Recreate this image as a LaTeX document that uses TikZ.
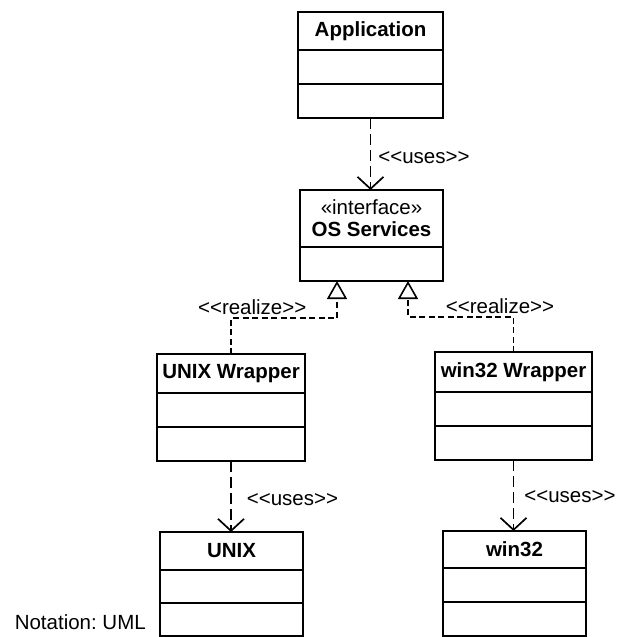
\documentclass[tikz,border=0pt]{standalone}
\usepackage{fontspec}
\setmainfont{Liberation Sans}
\usepackage{tikz}
\usetikzlibrary{positioning, arrows.meta}

\newcommand{\stereo}[1]{<\kern0pt<#1>\kern0pt>}
\frenchspacing

\tikzset{
  classname/.style={draw, line width=1.8pt, outer sep=0pt, inner sep=1pt,
    minimum height=39pt, font=\fontsize{20.5}{22}\selectfont\bfseries},
  compart/.style={draw, line width=1.8pt, outer sep=0pt, minimum height=34pt},
  uses/.style={line width=1.7pt, dash pattern=on 11pt off 5pt,
    -{Straight Barb[length=12pt, width=26pt]}},
  realize/.style={line width=1.6pt, dash pattern=on 6pt off 3.5pt,
    -{Triangle[open, length=18pt, width=20pt, fill=white]}},
  stereotype/.style={font=\fontsize{20.5}{22}\selectfont, inner sep=2pt}
}

\begin{document}
\begin{tikzpicture}[x=1pt, y=-1pt, font=\fontsize{20.5}{22}\selectfont]
  \useasboundingbox (0,0) rectangle (617,637);

  % classes
  \node[classname, minimum width=145pt, minimum height=38pt] (app) at (370.5,31) {Application};
  \node[compart, minimum width=145pt, below=0pt of app] (app-a) {};
  \node[compart, minimum width=145pt, below=0pt of app-a] (app-o) {};

  \node[classname, minimum width=143pt, minimum height=57pt, align=center] (os) at (371.5,218.5)
    {{\mdseries «interface»}\\OS Services};
  \node[compart, minimum width=143pt, below=0pt of os] (os-a) {};

  \node[classname, minimum width=148pt] (unixw) at (231,373.5) {UNIX Wrapper};
  \node[compart, minimum width=148pt, below=0pt of unixw] (unixw-a) {};
  \node[compart, minimum width=148pt, below=0pt of unixw-a] (unixw-o) {};

  \node[classname, minimum width=157pt, minimum height=40pt] (win32w) at (513.5,372) {win32 Wrapper};
  \node[compart, minimum width=157pt, below=0pt of win32w] (win32w-a) {};
  \node[compart, minimum width=157pt, below=0pt of win32w-a] (win32w-o) {};

  \node[classname, minimum width=143pt, minimum height=38pt] (unix) at (231.5,551) {UNIX};
  \node[compart, minimum width=143pt, minimum height=33pt, below=0pt of unix] (unix-a) {};
  \node[compart, minimum width=143pt, minimum height=33pt, below=0pt of unix-a] (unix-o) {};

  \node[classname, minimum width=143pt, minimum height=37pt] (win32) at (514.5,549.5) {win32};
  \node[compart, minimum width=143pt, below=0pt of win32] (win32-a) {};
  \node[compart, minimum width=143pt, below=0pt of win32-a] (win32-o) {};

  \node[left=12pt of unix-o, yshift=-3pt, inner sep=2pt] (notation) {Notation: UML};

  % dependencies
  \draw[uses] (app-o.south) -- node[stereotype, right=5pt, pos=0.55] {\stereo{uses}} (app-o.south |- os.north);
  \draw[uses] (unixw-o.south) -- node[stereotype, right=13pt, pos=0.55] {\stereo{uses}} (unixw-o.south |- unix.north);
  \draw[uses] (win32w-o.south) -- node[stereotype, right=8pt, pos=0.52] {\stereo{uses}} (win32w-o.south |- win32.north);

  % realizations
  \draw[realize] (unixw.north) -- ++(0,-36) -| node[stereotype, above=1pt, pos=0.1] {\stereo{realize}}
    ([xshift=-34.5pt]os-a.south);
  \draw[realize] (win32w.north) -- ++(0,-35) -| node[stereotype, above=1pt, pos=0.064] {\stereo{realize}}
    ([xshift=36.5pt]os-a.south);
\end{tikzpicture}
\end{document}
